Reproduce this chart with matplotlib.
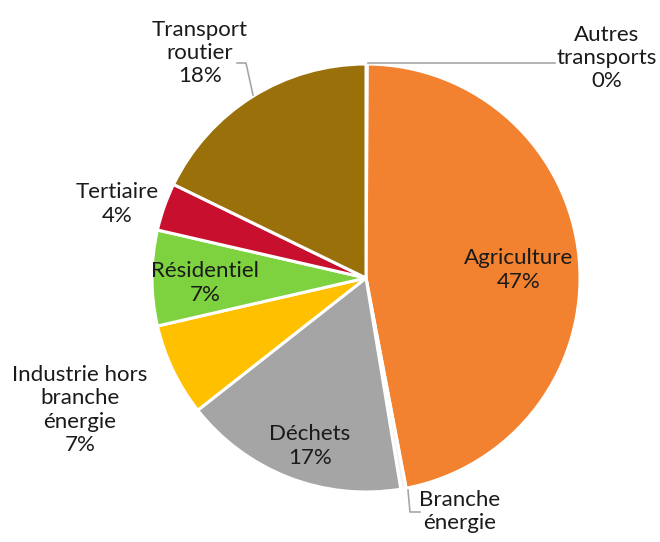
import matplotlib
matplotlib.use("Agg")
import matplotlib.pyplot as plt

categories = ["Autres\ntransports", "Agriculture", "Branche\nénergie", "Déchets",
              "Industrie hors\nbranche\nénergie", "Résidentiel", "Tertiaire", "Transport\nroutier"]
values = [0.1, 46.9, 0.4, 17.0, 7.0, 7.2, 3.6, 17.8]
pct_labels = ["0%", "47%", "", "17%", "7%", "7%", "4%", "18%"]
colors = ["#5B9BD5", "#F28130", "#F2F2F2", "#A5A5A5", "#FFC000", "#7ED13F", "#C8102E", "#9A700B"]

W, H = 660, 542
fig = plt.figure(figsize=(W / 100, H / 100), dpi=100)
ax = fig.add_axes([0, 0, 1, 1])

cx, cy, r = 366, H - 278, 214
ax.pie(values, colors=colors, startangle=90, counterclock=False,
       center=(cx, cy), radius=r,
       wedgeprops=dict(edgecolor="white", linewidth=2.2))
ax.set_xlim(0, W)
ax.set_ylim(0, H)
ax.set_aspect("equal")
ax.axis("off")

plt.rcParams["font.family"] = ["Lato", "DejaVu Sans"]
fs = 16
ls = 1.2

def txt(px, py, s, va="center"):
    ax.text(px, H - py, s, ha="center", va=va, fontsize=fs,
            linespacing=ls, color="#1a1a1a", family=["Lato", "DejaVu Sans"])

def lbl(i):
    if pct_labels[i]:
        return categories[i] + "\n" + pct_labels[i]
    return categories[i]

txt(607, 58, lbl(0))
txt(519, 270, lbl(1))
txt(460, 490, lbl(2), va="top")
txt(310, 446, lbl(3))
txt(80, 410, lbl(4))
txt(205, 283, lbl(5))
txt(117, 204, lbl(6))
txt(200, 53, lbl(7))

lc = "#A6A6A6"
ax.plot([368, 555], [H - 63, H - 63], color=lc, lw=1.2)
ax.plot([237, 246, 253], [H - 63, H - 63, H - 95], color=lc, lw=1.2)
ax.plot([408, 410, 420], [H - 490, H - 512, H - 512], color=lc, lw=1.2)

fig.savefig("out.png", dpi=100)
